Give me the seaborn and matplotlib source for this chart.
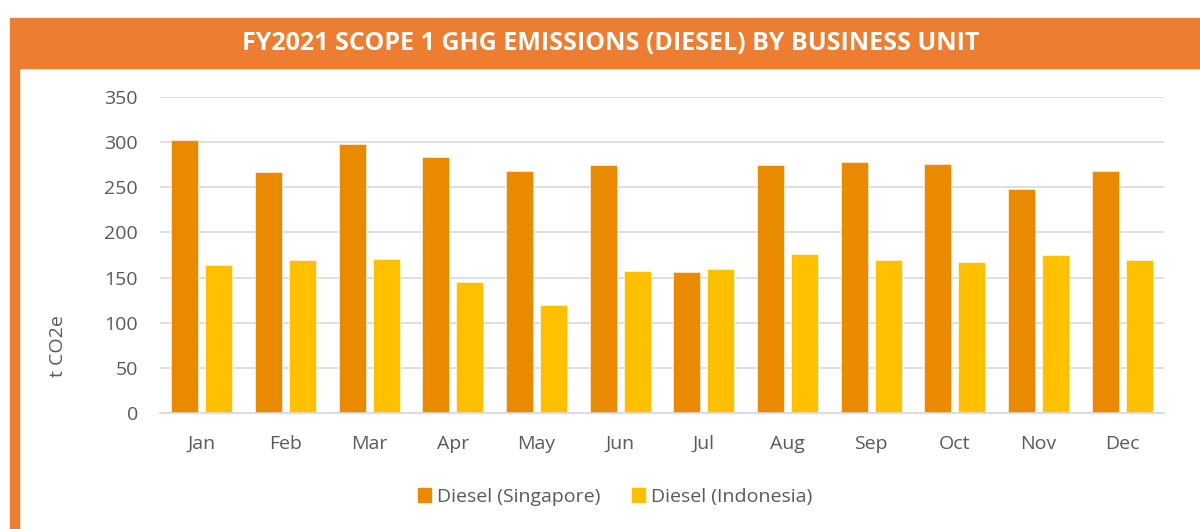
import pandas as pd
import matplotlib.pyplot as plt
import seaborn as sns
from matplotlib.patches import Rectangle, Patch

# data
months = ['Jan', 'Feb', 'Mar', 'Apr', 'May', 'Jun', 'Jul', 'Aug', 'Sep', 'Oct', 'Nov', 'Dec']
singapore = [302, 267, 298, 283, 268, 275, 156, 275, 278, 276, 248, 268]
indonesia = [164, 170, 171, 145, 120, 157, 160, 176, 170, 167, 175, 170]
series = ['Diesel (Singapore)', 'Diesel (Indonesia)']
title = 'FY2021 SCOPE 1 GHG EMISSIONS (DIESEL) BY BUSINESS UNIT'

df = pd.DataFrame({
    'month': months * 2,
    'value': singapore + indonesia,
    'series': [series[0]] * 12 + [series[1]] * 12,
})

sns.set_style('white')
plt.rcParams['font.family'] = ['Open Sans', 'DejaVu Sans']

orange = '#ED7D31'
colors = ['#EA8A00', '#FFC000']
grey = '#595959'

fig = plt.figure(figsize=(12, 5.29), dpi=100)

# orange banner + left strip
fig.patches.append(Rectangle((10 / 1200, 1 - 68 / 529), 1190 / 1200, 50 / 529,
                             transform=fig.transFigure, color=orange, zorder=0))
fig.patches.append(Rectangle((10 / 1200, 0), 9 / 1200, 1 - 68 / 529,
                             transform=fig.transFigure, color=orange, zorder=0))
fig.text(611 / 1200, 1 - 44 / 529, title, color='white', fontsize=18, fontweight='bold',
         ha='center', va='center')

ax = fig.add_axes([160 / 1200, 1 - 413 / 529, 1004 / 1200, 316 / 529])
sns.barplot(data=df, x='month', y='value', hue='series', palette=colors,
            width=0.81, gap=0.2, ax=ax, legend=False, saturation=1,
            edgecolor='white', linewidth=0.4)

ax.set_ylim(0, 350)
ax.set_yticks(range(0, 351, 50))
ax.set_xlim(-0.5, 11.5)
ax.grid(axis='y', color='#D9D9D9', linewidth=1.2)
ax.set_axisbelow(True)
for s in ['top', 'right', 'left']:
    ax.spines[s].set_visible(False)
ax.spines['bottom'].set_color('#D9D9D9')
ax.spines['bottom'].set_linewidth(1.2)
ax.tick_params(axis='both', length=0, labelsize=14, labelcolor=grey)
ax.tick_params(axis='x', pad=16)
ax.tick_params(axis='y', pad=16)
ax.set_xlabel('')
ax.set_ylabel('')
fig.text(58 / 1200, 1 - 346 / 529, 't CO2e', rotation=90, color=grey,
         fontsize=14, ha='center', va='center')

handles = [Patch(color=c, label=l) for c, l in zip(colors, series)]
fig.legend(handles=handles, loc='center', bbox_to_anchor=(615 / 1200, 1 - 497 / 529),
           ncol=2, frameon=False, fontsize=14, labelcolor=grey,
           handlelength=0.7, handleheight=0.7, handletextpad=0.3, columnspacing=1.6)

fig.savefig('out.png', dpi=100)
